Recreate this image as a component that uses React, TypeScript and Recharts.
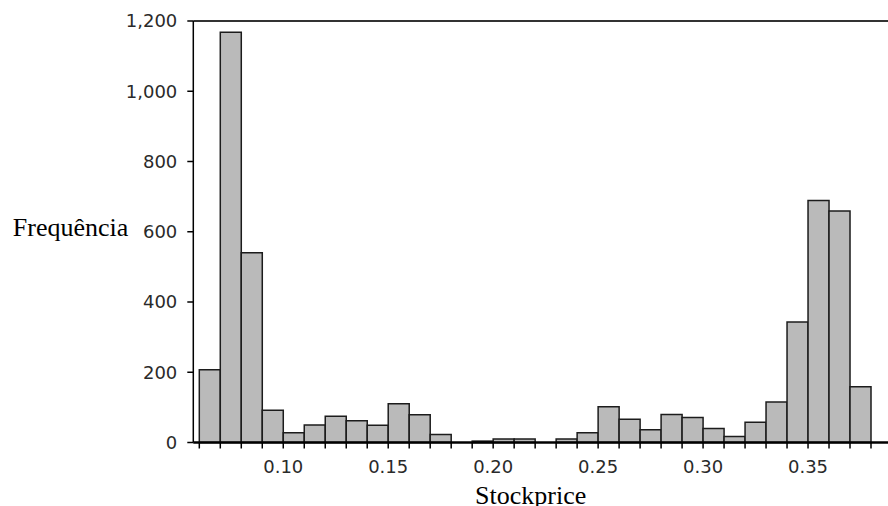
import { BarChart, Bar, XAxis, YAxis, ReferenceLine } from 'recharts';

// lower edge of each 0.01-wide price bin
const binLower = [
  0.06, 0.07, 0.08, 0.09, 0.10, 0.11, 0.12, 0.13,
  0.14, 0.15, 0.16, 0.17, 0.18, 0.19, 0.20, 0.21,
  0.22, 0.23, 0.24, 0.25, 0.26, 0.27, 0.28, 0.29,
  0.30, 0.31, 0.32, 0.33, 0.34, 0.35, 0.36, 0.37,
];

// count of observations in each bin
const frequency = [
  207, 1168, 540, 92, 28, 50, 75, 62,
  49, 110, 79, 23, 0, 4, 10, 10,
  0, 10, 28, 102, 66, 36, 80, 71,
  40, 17, 58, 115, 343, 689, 659, 159,
];

// bin edges on the price axis (tick marks)
const priceTicks = [
  0.06, 0.07, 0.08, 0.09, 0.10, 0.11, 0.12, 0.13, 0.14, 0.15, 0.16,
  0.17, 0.18, 0.19, 0.20, 0.21, 0.22, 0.23, 0.24, 0.25, 0.26, 0.27,
  0.28, 0.29, 0.30, 0.31, 0.32, 0.33, 0.34, 0.35, 0.36, 0.37, 0.38,
];

const countTicks = [0, 200, 400, 600, 800, 1000, 1200];

const BIN_WIDTH = 0.01;

// bars sit on the bin centre of a numeric axis
const data = binLower.map((lo, i) => ({ mid: lo + BIN_WIDTH / 2, count: frequency[i] }));

const numFont = { fontFamily: 'DejaVu Sans', fontSize: 18, fill: '#2a2a2a' };
const titleFont = { fontFamily: '"Liberation Serif", "Times New Roman", serif', fontSize: 26, fill: '#000' };

export default function App() {
  return (
    <div style={{ position: 'absolute', left: 0, top: 0, width: 888, height: 506, background: '#fff', overflow: 'hidden' }}>
      <BarChart
        width={888}
        height={506}
        data={data}
        margin={{ top: 21, right: 0, bottom: 0, left: 0 }}
        barCategoryGap={0}
        barGap={0}
      >
        <XAxis
          dataKey="mid"
          type="number"
          domain={[0.057141, 0.388099]}
          allowDataOverflow
          ticks={priceTicks}
          interval={0}
          height={63.5}
          axisLine={{ stroke: '#000', strokeWidth: 2.5 }}
          tickLine={{ stroke: '#000', strokeWidth: 1.5 }}
          tickSize={6}
          tickMargin={12}
          tick={numFont}
          tickFormatter={(v: number) => (Math.round(v * 100) % 5 === 0 && v > 0.07 ? v.toFixed(2) : '')}
          label={{
            content: ({ viewBox }: any) => (
              <text
                x={viewBox.x + viewBox.width / 2 - 10}
                y={viewBox.y + viewBox.height - 2}
                textAnchor="middle"
                {...titleFont}
              >
                Stockprice
              </text>
            ),
          }}
        />
        <YAxis
          width={193.3}
          domain={[0, 1200]}
          ticks={countTicks}
          interval={0}
          axisLine={{ stroke: '#000', strokeWidth: 1.5 }}
          tickLine={{ stroke: '#000', strokeWidth: 1.5 }}
          tickSize={6}
          tickMargin={10}
          tick={numFont}
          tickFormatter={(v: number) => v.toLocaleString('en-US')}
          label={{
            content: ({ viewBox }: any) => (
              <text
                x={viewBox.x + viewBox.width - 65}
                y={viewBox.y + viewBox.height / 2 + 4}
                textAnchor="end"
                {...titleFont}
              >
                Frequência
              </text>
            ),
          }}
        />
        <ReferenceLine y={1200} stroke="#333" strokeWidth={2} />
        <Bar
          dataKey="count"
          fill="#bababa"
          stroke="#1c1c1c"
          strokeWidth={1.5}
          isAnimationActive={false}
        />
      </BarChart>
    </div>
  );
}
